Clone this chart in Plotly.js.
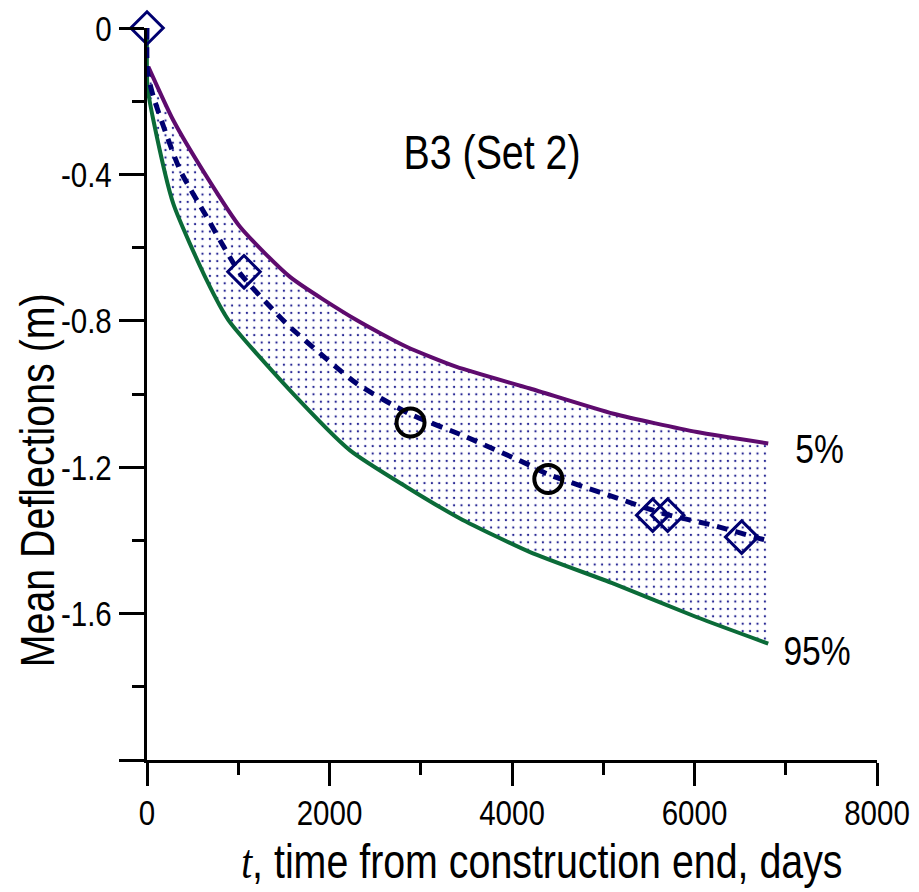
<!DOCTYPE html>
<html>
<head>
<meta charset="utf-8">
<script src="https://cdn.plot.ly/plotly-3.0.1.min.js"></script>
<style>html,body{margin:0;padding:0;background:#fff;}#chart{width:919px;height:892px;}</style>
</head>
<body>
<div id="chart"></div>
<script>
// 5% bound
var t5 = [15, 288, 654, 1019, 1567, 2296, 2844, 3393, 4197, 5113, 6027, 6808];
var y5 = [-0.106, -0.252, -0.406, -0.543, -0.680, -0.798, -0.871, -0.926, -0.985, -1.054, -1.104, -1.135];
// 95% bound
var t95 = [0, 5, 70, 288, 654, 892, 1567, 2225, 2844, 3430, 4197, 5113, 6027, 6808];
var y95 = [0, -0.16, -0.252, -0.48, -0.689, -0.798, -0.99, -1.154, -1.254, -1.34, -1.432, -1.518, -1.61, -1.682];
// mean prediction
var tMean = [0, 5, 70, 362, 654, 1019, 1420, 1567, 2296, 2877, 3496, 4197, 4380, 5113, 5660, 6208, 6717, 6800];
var yMean = [0, -0.12, -0.188, -0.388, -0.516, -0.67, -0.78, -0.817, -0.971, -1.054, -1.117, -1.195, -1.218, -1.281, -1.327, -1.359, -1.395, -1.40];
// observations (diamonds)
var tDiam = [0, 1063, 5542, 5706, 6517];
var yDiam = [0, -0.666, -1.331, -1.331, -1.391];
// observations (circles)
var tCirc = [2888, 4398];
var yCirc = [-1.078, -1.232];
// axis ticks
var yTickVals = [0, -0.4, -0.8, -1.2, -1.6, -2.0];
var yTickText = ['0', '-0.4', '-0.8', '-1.2', '-1.6', ''];
var yMinorVals = [-0.2, -0.6, -1.0, -1.4, -1.8];
var xTickVals = [0, 2000, 4000, 6000, 8000];
var xTickText = ['0', '2000', '4000', '6000', '8000'];
var xMinorVals = [1000, 3000, 5000, 7000];

var FONT = "'Liberation Sans', Arial, sans-serif";
var NAVY = '#000070';

var traces = [
  {x: t5, y: y5, mode: 'lines', line: {color: '#5e0b6e', width: 4, shape: 'spline', smoothing: 0.6}},
  {x: t95, y: y95, mode: 'lines', line: {color: '#0b6b38', width: 4, shape: 'spline', smoothing: 0.6},
   fill: 'tonexty', fillcolor: 'rgba(255,255,255,0)',
   fillpattern: {shape: '.', fgcolor: '#2a2a95', bgcolor: 'rgba(255,255,255,0)', size: 7.4, solidity: 0.08}},
  {x: tMean, y: yMean, mode: 'lines', line: {color: NAVY, width: 5, dash: '11px,8px', shape: 'spline', smoothing: 0.6}},
  {x: tDiam, y: yDiam, mode: 'markers', cliponaxis: false,
   marker: {symbol: 'diamond-open', size: 25, color: NAVY, line: {color: NAVY, width: 3}}},
  {x: tCirc, y: yCirc, mode: 'markers', cliponaxis: false,
   marker: {symbol: 'circle-open', size: 28, color: '#000', line: {color: '#000', width: 4}}}
];

var layout = {
  width: 919, height: 892,
  margin: {l: 147, r: 42, t: 28, b: 132},
  paper_bgcolor: '#fff', plot_bgcolor: '#fff',
  showlegend: false,
  font: {family: FONT, color: '#000', size: 36},
  xaxis: {
    range: [0, 8000], showgrid: false, zeroline: false,
    showline: true, linecolor: '#000', linewidth: 3,
    tickmode: 'array', tickvals: xTickVals, ticktext: xTickText,
    ticks: 'outside', ticklen: 23, tickwidth: 3, tickcolor: '#000',
    ticklabelstandoff: -4,
    tickfont: {family: FONT, size: 36},
    minor: {tickmode: 'array', tickvals: xMinorVals, ticks: 'outside', ticklen: 12, tickwidth: 3, tickcolor: '#000', showgrid: false}
  },
  yaxis: {
    range: [-2, 0], showgrid: false, zeroline: false,
    showline: true, linecolor: '#000', linewidth: 3,
    tickmode: 'array', tickvals: yTickVals, ticktext: yTickText,
    ticks: 'outside', ticklen: 25, tickwidth: 3, tickcolor: '#000',
    tickfont: {family: FONT, size: 36},
    minor: {tickmode: 'array', tickvals: yMinorVals, ticks: 'outside', ticklen: 12, tickwidth: 3, tickcolor: '#000', showgrid: false}
  },
  annotations: [
    {x: 0.541, y: -0.139, xref: 'paper', yref: 'paper', xanchor: 'center', yanchor: 'middle', showarrow: false, borderpad: 0,
     text: "<span style=\"font-family:'Liberation Serif',serif;font-style:italic\">t</span>, time from construction end, days",
     font: {family: FONT, size: 48}},
    {x: -0.1507, y: 0.382, xref: 'paper', yref: 'paper', xanchor: 'center', yanchor: 'middle', showarrow: false, borderpad: 0,
     textangle: -90, text: 'Mean Deflections (m)', font: {family: FONT, size: 48}},
    {x: 3786, y: -0.339, xref: 'x', yref: 'y', text: 'B3 (Set 2)', showarrow: false, font: {family: FONT, size: 48}},
    {x: 7367, y: -1.15, xref: 'x', yref: 'y', text: '5%', showarrow: false, font: {family: FONT, size: 41}},
    {x: 7345, y: -1.703, xref: 'x', yref: 'y', text: '95%', showarrow: false, font: {family: FONT, size: 41}}
  ]
};

Plotly.newPlot('chart', traces, layout, {displayModeBar: false, staticPlot: true}).then(function (gd) {
  // narrow the sans-serif type (Arial Narrow look) by compressing each text horizontally around its anchor
  var texts = gd.querySelectorAll('text');
  for (var i = 0; i < texts.length; i++) {
    var t = texts[i];
    var x = parseFloat(t.getAttribute('x')) || 0;
    var y = parseFloat(t.getAttribute('y')) || 0;
    var tr = t.getAttribute('transform') || '';
    t.setAttribute('transform', tr + ' translate(' + x + ',' + y + ') scale(0.82,1) translate(' + (-x) + ',' + (-y) + ')');
  }
});
</script>
</body>
</html>
